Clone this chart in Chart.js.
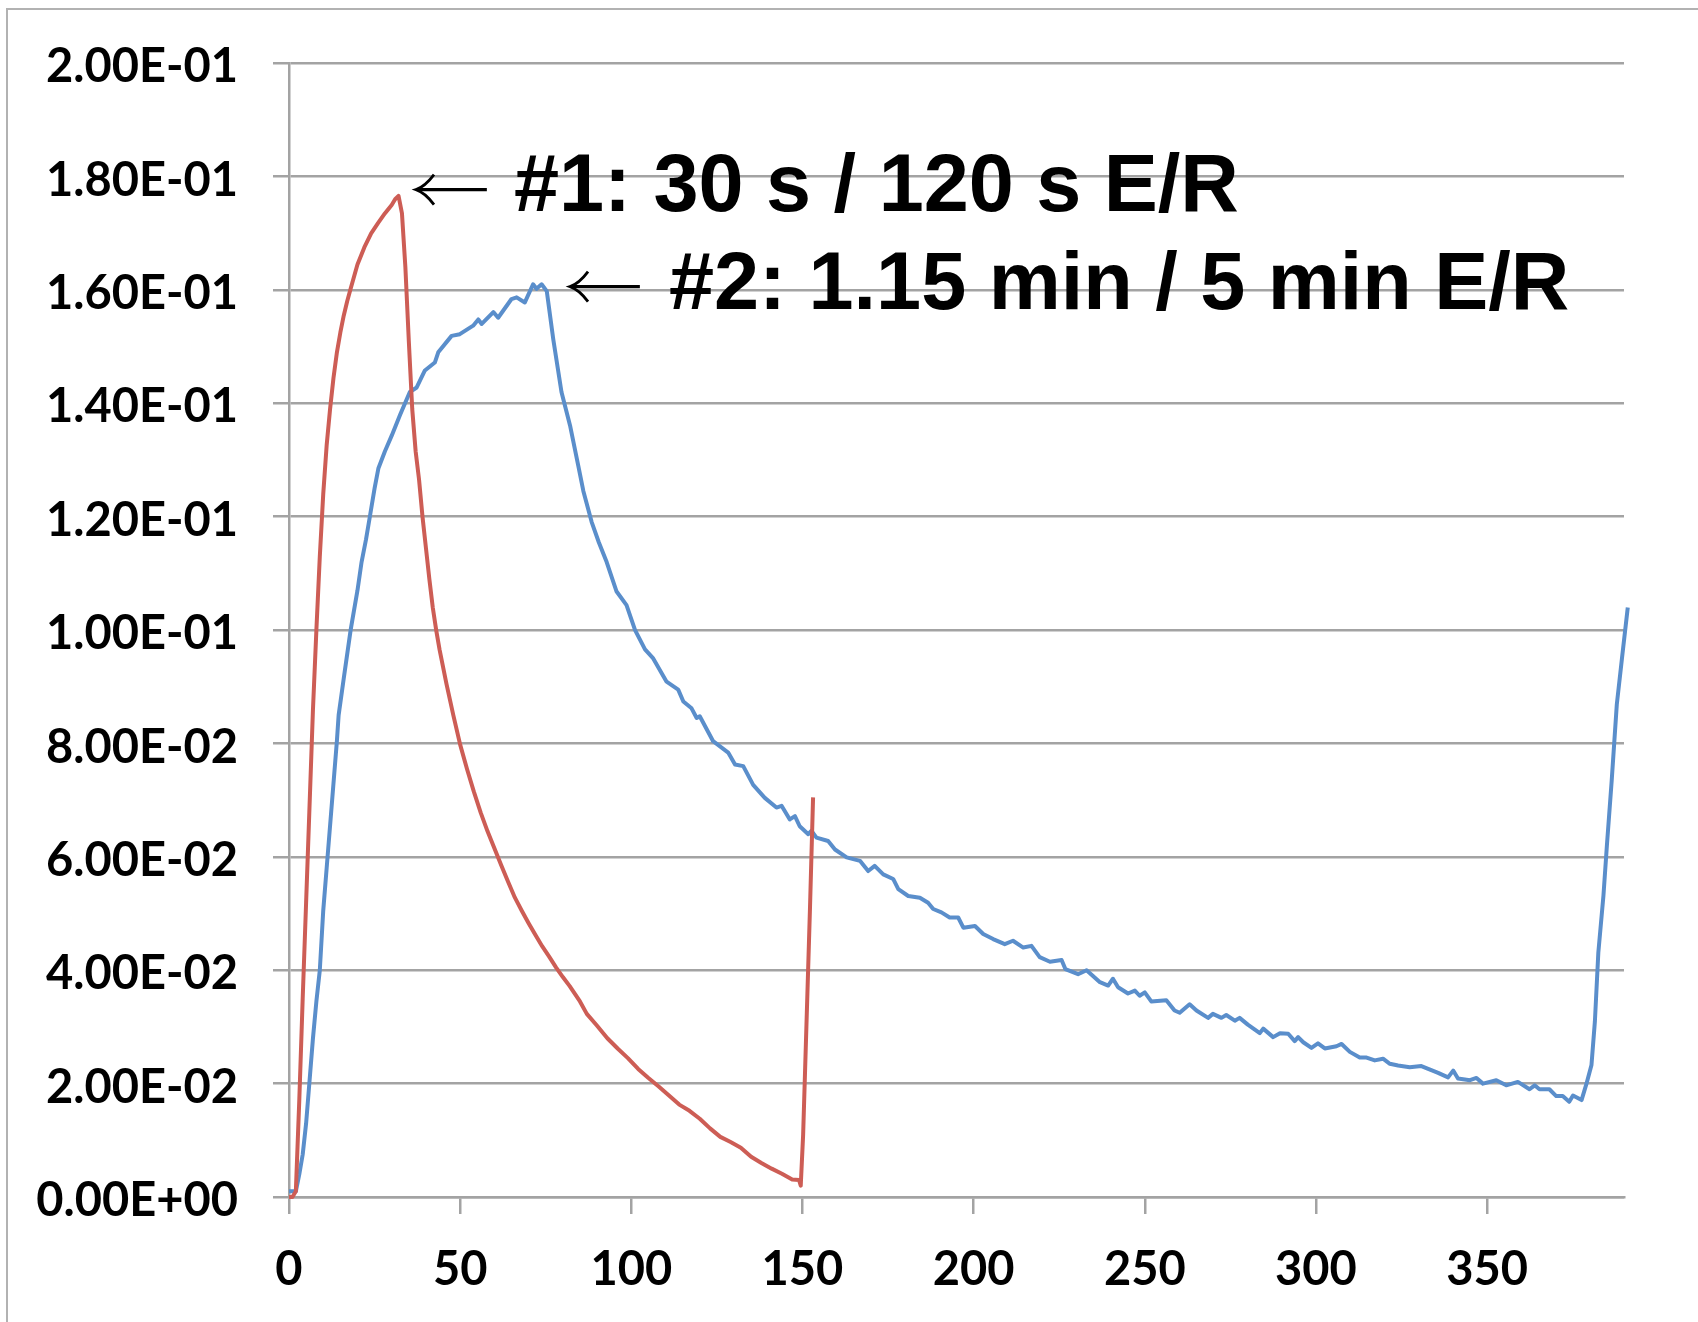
<!DOCTYPE html>
<html><head><meta charset="utf-8">
<script src="https://cdn.jsdelivr.net/npm/chart.js@4.4.0/dist/chart.umd.min.js"></script>
<style>html,body{margin:0;padding:0;background:#fff;}#c{display:block;}</style>
</head><body>
<canvas id="c" width="1698" height="1322"></canvas>
<script>
const xTickValues = [0, 50, 100, 150, 200, 250, 300, 350];
const xTickLabels = ['0', '50', '100', '150', '200', '250', '300', '350'];
const yTickValues = [0, 0.02, 0.04, 0.06, 0.08, 0.10, 0.12, 0.14, 0.16, 0.18, 0.20];
const yTickLabels = ['0.00E+00', '2.00E-02', '4.00E-02', '6.00E-02', '8.00E-02', '1.00E-01',
  '1.20E-01', '1.40E-01', '1.60E-01', '1.80E-01', '2.00E-01'];

const series1Label = '#1: 30 s / 120 s E/R';
const series1 = [
  [0,0],[1,0],[2,0.001],[3,0.017],[4,0.035],[5,0.052],[6,0.069],[7,0.086],[8,0.1],[9,0.113],
  [10,0.124],[11,0.1326],[12,0.139],[13,0.1445],[14,0.149],[15,0.1525],[16,0.1555],[17,0.158],
  [18,0.1602],[20,0.1645],[22,0.1675],[24,0.17],[26,0.1718],[28,0.1735],[30,0.175],[31,0.176],
  [32,0.1766],[33,0.1735],[34,0.164],[35,0.151],[36,0.139],[37,0.1315],[38,0.1265],[39,0.12],
  [40,0.1145],[41,0.109],[42,0.104],[43,0.1],[44,0.0965],[45,0.0935],[46,0.0905],[48,0.085],
  [50,0.0798],[52,0.0755],[54,0.0715],[56,0.0678],[58,0.0645],[60,0.0615],[62,0.0585],[64,0.0556],
  [66,0.0528],[68,0.0505],[70,0.0483],[72,0.0462],[74,0.0442],[76,0.0424],[78,0.0405],[80,0.0388],
  [82,0.0372],[85,0.0345],[87,0.0323],[90,0.0302],[93,0.028],[96,0.0262],[99,0.0245],[102,0.0226],
  [105,0.021],[108,0.0195],[111,0.0179],[114,0.0163],[117,0.0152],[120,0.0138],[123,0.0121],
  [126,0.0106],[129,0.0097],[132,0.0087],[135,0.0071],[138,0.006],[141,0.005],[144,0.0041],
  [147,0.0031],[149,0.003],[149.5,0.002],[150.2,0.011],[152.2,0.051],[153.1,0.0705]
];

const series2Label = '#2: 1.15 min / 5 min E/R';
const series2 = [
  [0,0.001],[1,0.001],[2,0.001],[3,0.004],[4,0.0075],[5,0.013],[6,0.0205],[7,0.028],[8,0.0345],
  [9,0.04],[10,0.0505],[11,0.058],[12,0.0655],[13,0.073],[14,0.0805],[14.5,0.085],[16,0.0915],
  [18,0.1],[20,0.107],[21.2,0.112],[22.5,0.116],[23.7,0.1203],[25,0.125],[26.1,0.1285],[28,0.1315],
  [30,0.1343],[32.4,0.1379],[35.3,0.142],[37.3,0.1428],[39.7,0.1458],[42.6,0.1472],[43.6,0.149],
  [47.5,0.1519],[49.9,0.1522],[53.8,0.1537],[55.3,0.1548],[56.3,0.154],[59.7,0.1561],[61.1,0.1551],
  [65,0.1584],[66.5,0.1587],[68.9,0.1578],[71.3,0.161],[72.3,0.1602],[73.8,0.161],[75.3,0.1598],
  [77.2,0.1513],[79.6,0.142],[82.1,0.1361],[84.5,0.129],[86,0.1245],[88.4,0.1191],[90.5,0.1155],
  [92.8,0.112],[95.7,0.1068],[98.6,0.1044],[101.1,0.1],[104,0.0966],[106.4,0.095],[110.3,0.0909],
  [113.7,0.0895],[115.2,0.0874],[117.6,0.0862],[119.1,0.0845],[120,0.0848],[123.9,0.0804],
  [128.3,0.0784],[130.3,0.0763],[132.7,0.076],[135.6,0.0727],[139,0.0704],[142.4,0.0687],
  [143.9,0.069],[146.3,0.0666],[147.8,0.0672],[149.2,0.0654],[151.7,0.064],[152.6,0.0646],
  [154.1,0.0634],[157.5,0.0628],[159.5,0.0613],[162.9,0.0599],[166.8,0.0593],[169.2,0.0575],
  [171.1,0.0584],[173.6,0.0569],[176.5,0.0561],[178,0.0543],[180.9,0.0531],[184.3,0.0528],
  [186.7,0.0519],[188.2,0.0508],[190.6,0.0502],[193,0.0493],[195.5,0.0493],[197,0.0475],
  [200.4,0.0478],[202.8,0.0464],[205.7,0.0455],[209.1,0.0446],[211.5,0.0452],[214.5,0.044],
  [216.9,0.0443],[219.3,0.0423],[222.3,0.0415],[225.7,0.0418],[226.8,0.0402],[230.5,0.0393],
  [233,0.04],[236.9,0.0379],[239.3,0.0373],[240.7,0.0385],[242.2,0.037],[245.1,0.0359],
  [247.1,0.0364],[248.5,0.0355],[250,0.0361],[251.9,0.0345],[256.3,0.0347],[258.7,0.0329],
  [260.2,0.0325],[263.1,0.034],[265.1,0.0329],[268.5,0.0316],[269.9,0.0323],[272.4,0.0316],
  [273.8,0.0321],[276.3,0.0311],[277.7,0.0316],[280.1,0.0304],[283.6,0.0289],[284.6,0.0297],
  [287.5,0.0282],[289.5,0.0289],[291.9,0.0288],[293.8,0.0275],[294.8,0.0282],[296.3,0.0273],
  [298.7,0.0263],[300.6,0.0271],[302.6,0.0262],[306,0.0266],[307.5,0.027],[309.9,0.0256],
  [312.8,0.0246],[314.8,0.0246],[317.2,0.0241],[319.6,0.0244],[321.6,0.0235],[324,0.0232],
  [327.4,0.0229],[330.8,0.0231],[335.7,0.0219],[338.6,0.0211],[340.1,0.0223],[341.5,0.0209],
  [345,0.0206],[346.9,0.021],[348.8,0.02],[352.7,0.0206],[355.6,0.0197],[359,0.0203],
  [362.4,0.019],[363.9,0.0197],[365.3,0.019],[368.2,0.019],[370.2,0.0178],[372.1,0.0178],
  [374,0.0168],[375.1,0.0179],[377.6,0.0171],[379,0.0199],[380.5,0.0233],[381.5,0.031],
  [382.5,0.0431],[384,0.0532],[385,0.062],[386.4,0.0734],[387.9,0.0869],[389.4,0.095],[391.1,0.104]
];

// annotation anchors, in data units (arrow tip, arrow tail, text start / baseline)
const annotations = [
  { text: series1Label, tipX: 37.1, tailX: 57.8, arrowY: 0.1777, textX: 65.7, baseY: 0.174 },
  { text: series2Label, tipX: 82.1, tailX: 102.5, arrowY: 0.1606, textX: 111.0, baseY: 0.1566 }
];

const GRID = '#a3a3a3';
const RED = '#CD5D55';
const BLUE = '#5A8ECB';
const tickFont = { family: 'Lato', weight: 'bold', size: 47 };

const decor = {
  id: 'decor',
  beforeDraw(chart) {
    const ctx = chart.ctx;
    ctx.save();
    ctx.fillStyle = '#fff';
    ctx.fillRect(0, 0, chart.width, chart.height);
    ctx.strokeStyle = '#b2b2b2';
    ctx.lineWidth = 2;
    ctx.strokeRect(7, 9, chart.width + 40, chart.height + 40);
    ctx.restore();
  },
  afterDatasetsDraw(chart) {
    const ctx = chart.ctx;
    const xs = chart.scales.x, ys = chart.scales.y;
    ctx.save();
    annotations.forEach(a => {
      const tx = xs.getPixelForValue(a.tipX);
      const ex = xs.getPixelForValue(a.tailX);
      const ay = ys.getPixelForValue(a.arrowY);
      ctx.strokeStyle = '#000';
      ctx.lineCap = 'butt';
      ctx.lineWidth = 3.2;
      ctx.beginPath();
      ctx.moveTo(tx + 2, ay);
      ctx.lineTo(ex, ay);
      ctx.stroke();
      ctx.lineWidth = 2.8;
      ctx.beginPath();
      ctx.moveTo(tx + 18, ay - 15);
      ctx.quadraticCurveTo(tx + 9, ay - 3, tx, ay);
      ctx.quadraticCurveTo(tx + 9, ay + 3, tx + 18, ay + 15);
      ctx.stroke();
      ctx.fillStyle = '#000';
      ctx.font = 'bold 81px "Liberation Sans", Arial, sans-serif';
      ctx.textBaseline = 'alphabetic';
      ctx.textAlign = 'left';
      ctx.fillText(a.text, xs.getPixelForValue(a.textX), ys.getPixelForValue(a.baseY));
    });
    ctx.restore();
  }
};

new Chart(document.getElementById('c'), {
  type: 'scatter',
  data: {
    datasets: [
      { label: series1Label, data: series1.map(([x, y]) => ({ x, y })), showLine: true, clip: false,
        borderColor: RED, backgroundColor: RED, borderWidth: 4, pointRadius: 0, tension: 0, fill: false,
        borderJoinStyle: 'round' },
      { label: series2Label, data: series2.map(([x, y]) => ({ x, y })), showLine: true, clip: false,
        borderColor: BLUE, backgroundColor: BLUE, borderWidth: 4, pointRadius: 0, tension: 0, fill: false,
        borderJoinStyle: 'round' }
    ]
  },
  options: {
    responsive: false,
    animation: false,
    devicePixelRatio: 1,
    layout: { padding: { top: 60, right: 74, left: 0, bottom: 0 } },
    plugins: { legend: { display: false }, tooltip: { enabled: false } },
    scales: {
      x: {
        type: 'linear', position: 'bottom', min: 0, max: 390,
        afterBuildTicks: s => { s.ticks = xTickValues.map(v => ({ value: v })); },
        afterFit: s => { s.height = 125; },
        ticks: { callback: (v, i) => xTickLabels[i], font: tickFont, color: '#000', padding: 28,
                 maxRotation: 0, autoSkip: false },
        grid: { drawOnChartArea: false, drawTicks: true, tickLength: 17, color: GRID, lineWidth: 2.5 },
        border: { display: true, color: GRID, width: 2.5 }
      },
      y: {
        type: 'linear', min: 0, max: 0.2,
        afterBuildTicks: s => { s.ticks = yTickValues.map(v => ({ value: v })); },
        afterFit: s => { s.width = 289; },
        ticks: { callback: (v, i) => yTickLabels[i], font: tickFont, color: '#000', padding: 35,
                 labelOffset: 4, autoSkip: false },
        grid: { color: GRID, lineWidth: 2.5, tickLength: 16, drawTicks: true },
        border: { display: true, color: GRID, width: 2.5 }
      }
    }
  },
  plugins: [decor]
});
</script>
</body></html>
